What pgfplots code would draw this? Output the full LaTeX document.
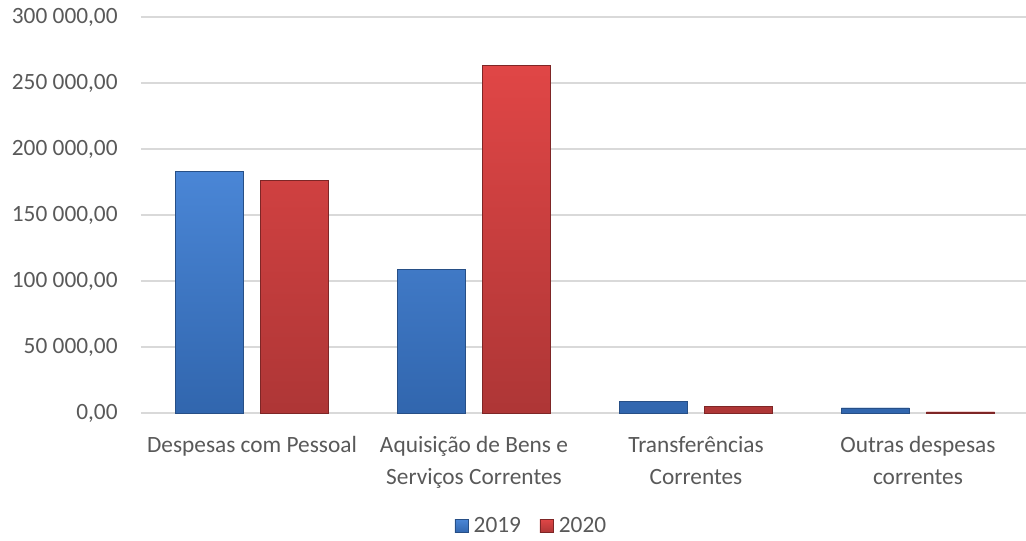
\documentclass[border=0pt]{standalone}
\usepackage{pgfplots}
\pgfplotsset{compat=1.18}
\usepackage{fontspec}
\setmainfont{Carlito}
\definecolor{txt}{HTML}{595959}
\definecolor{grd}{HTML}{D9D9D9}
\definecolor{bluetop}{HTML}{4A86D6}
\definecolor{bluebot}{HTML}{3166AE}
\definecolor{blueedge}{HTML}{274F86}
\definecolor{redtop}{HTML}{E04646}
\definecolor{redbot}{HTML}{AE3636}
\definecolor{rededge}{HTML}{7E2626}
\begin{document}
\begin{tikzpicture}
\useasboundingbox (-105.75pt,-95.25pt) rectangle (663.75pt,309.75pt);
\begin{axis}[
  at={(0,0)}, anchor=south west,
  scale only axis,
  width=666pt, height=297pt,
  ybar=12.75pt, bar width=51pt,
  xmin=-0.5, xmax=3.5,
  ymin=0, ymax=300000,
  scaled y ticks=false,
  xtick={0,1,2,3},
  xticklabels={Despesas com Pessoal, {Aquisição de Bens e\\Serviços Correntes}, {Transferências\\Correntes}, {Outras despesas\\correntes}},
  ytick={0,50000,100000,150000,200000,250000,300000},
  yticklabels={{0,00},{50 000,00},{100 000,00},{150 000,00},{200 000,00},{250 000,00},{300 000,00}},
  ymajorgrids,
  grid style={grd, line width=0.9pt},
  axis line style={draw=none},
  tick style={draw=none},
  font=\fontsize{17.5}{23.5}\selectfont,
  ticklabel style={text=txt},
  xticklabel style={align=center, anchor=north, yshift=-10pt},
  yticklabel style={anchor=east, xshift=-14pt},
  legend style={at={(0.44,-0.285)}, anchor=center, draw=none, legend columns=-1,
    font=\fontsize{17.5}{20}\selectfont, text=txt, inner sep=0pt,
    /tikz/every odd column/.append style={column sep=2pt},
    /tikz/every even column/.append style={column sep=12pt}},
  legend image code/.code={\fill[#1] (0pt,-5pt) rectangle (10pt,5pt);},
  clip=false,
]
\addplot[fill=bluetop, top color=bluetop, bottom color=bluebot, draw=blueedge, line width=0.4pt]
  coordinates {(0,183333) (1,109091) (2,9091) (3,3800)};
\addlegendentry{2019}
\addplot[fill=redtop, top color=redtop, bottom color=redbot, draw=rededge, line width=0.4pt]
  coordinates {(0,176000) (1,263636) (2,5300) (3,900)};
\addlegendentry{2020}
\end{axis}
\end{tikzpicture}
\end{document}
